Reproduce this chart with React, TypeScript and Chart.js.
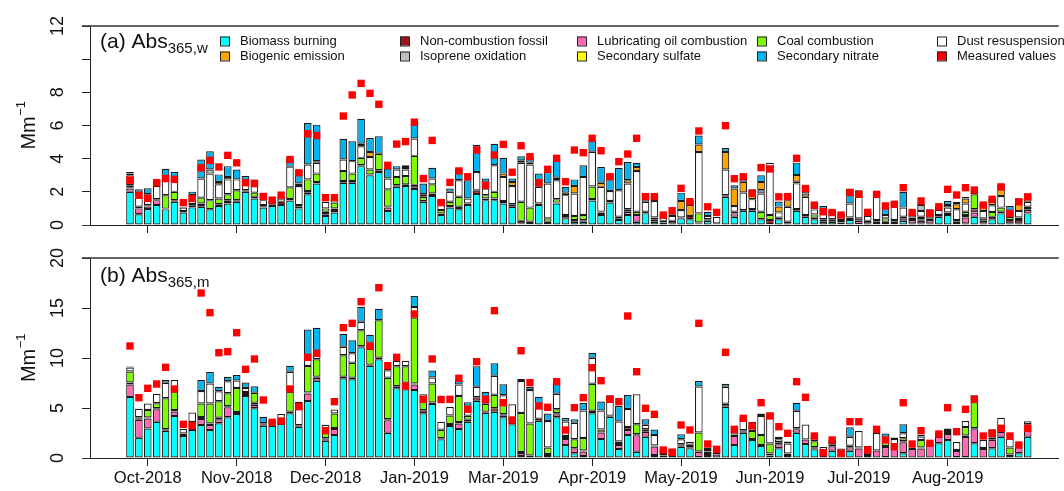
import React, { useEffect, useRef } from 'react';
import { Chart, registerables } from 'chart.js';

Chart.register(...registerables);

const FONT = "'Liberation Sans', Arial, Helvetica, sans-serif";

// ---------- categories / ticks ----------
const monthLabels = ['Oct-2018', 'Nov-2018', 'Dec-2018', 'Jan-2019', 'Mar-2019', 'Apr-2019', 'May-2019', 'Jun-2019', 'Jul-2019', 'Aug-2019'];
const monthTickBars = [2, 12, 22, 32, 42, 52, 62, 72, 82, 92];
const LEAD = 4;
const TRAIL = 3;

const sourceNames = ['Biomass burning', 'Lubricating oil combustion', 'Non-combustion fossil', 'Coal combustion', 'Dust resuspension', 'Isoprene oxidation', 'Biogenic emission', 'Secondary sulfate', 'Secondary nitrate'];
const sourceColors = ['#00FFFF', '#FF69B4', '#A0141E', '#7CFC00', '#FFFFFF', '#BEBEBE', '#FFA500', '#FFFF00', '#00B4F0'];

const legendNames = ['Biomass burning', 'Biogenic emission', 'Non-combustion fossil', 'Isoprene oxidation', 'Lubricating oil combustion', 'Secondary sulfate', 'Coal combustion', 'Secondary nitrate', 'Dust resuspension', 'Measured values'];
const legendColors = ['#00FFFF', '#FFA500', '#A0141E', '#BEBEBE', '#FF69B4', '#FFFF00', '#7CFC00', '#00B4F0', '#FFFFFF', '#FF0000'];

// ---------- panel (a) Abs365,w ----------
const aBio = [2.0,0.65,0.96,1.2,0.94,1.4,0.75,1.06,1.1,0.95, 1.15,1.3,1.4,2.0,1.6,1.05,1.15,1.2,1.47,1.0, 1.85,2.5,0.55,0.75,2.55,2.55,3.55,3.0,3.2,0.85, 2.3,2.35,2.17,1.4,1.75,0.6,1.05,0.95,1.2,1.87, 1.5,1.5,1.3,1.1,0.05,0.05,1.2,0.05,1.3,0.4, 0.2,0.2,1.47,0.6,1.35,0.3,0.6,0.2,0.7,0.2, 0.15,0.1,0.4,0.35,0.05,0.25,0.05,1.7,0.5,0.86, 0.86,0.35,0.05,0.34,0.1,0.86,0.5,0.34,0.2,0.2, 0.05,0.3,0.05,0.1,0.05,0.05,0.05,0.25,0.1,0.1, 0.1,0.5,0.6,0.05,0.1,0.5,0.1,0.34,0.7,0.1, 0.1,0.7];
const aLub = [0.2,0.35,0.15,0.3,0,0.1,0,0.1,0.1,0, 0.1,0.15,0,0,0,0.05,0,0,0,0.1, 0.1,0,0.1,0.15,0,0,0,0,0,0.2, 0,0,0.1,0,0,0,0,0,0,0, 0,0,0,0,0.05,0,0,0,0,0.15, 0.1,0.05,0,0.15,0,0.1,0.2,0.4,0,0.15, 0,0,0,0,0.05,0,0,0.05,0.2,0, 0,0,0,0,0,0,0,0,0,0, 0.1,0,0.2,0,0.15,0.15,0.15,0.15,0.2,0.15, 0.2,0,0,0.15,0.35,0.25,0.15,0,0,0, 0,0.2];
const aNc = [0.05,0.1,0.05,0,0.05,0,0.1,0.1,0.1,0, 0,0.05,0.1,0.1,0.1,0.1,0.1,0.2,0.1,0.1, 0.1,0.1,0.15,0.1,0.1,0.1,0.05,0.05,0.1,0.05, 0.1,0.1,0.15,0.05,0.15,0.1,0.1,0.15,0.1,0.2, 0.1,0.1,0,0.15,0.15,0.15,0.1,0.15,0.05,0.05, 0,0.05,0.1,0.05,0.1,0.1,0.15,0,0.1,0.1, 0.1,0.15,0.05,0.2,0.05,0.1,0.05,0.05,0.1,0.05, 0.1,0,0.25,0.1,0.1,0.1,0.1,0.1,0.15,0.15, 0.15,0.15,0.15,0.15,0.1,0,0.1,0.1,0.15,0.1, 0.1,0.1,0.15,0.1,0.15,0.2,0.15,0.15,0.1,0.2, 0.2,0.05];
const aCoal = [0.15,0,0.05,0.05,0.8,0.5,0,0,0.35,0.55, 0.35,0.35,0.6,0,0.25,0,0,0,0.7,0, 0.7,0.5,0.2,0.35,0.6,0.45,0.45,0.3,1.0,1.05, 0.5,0.5,1.75,0.25,0.55,0.2,0.25,0.6,0,0.05, 0.2,0.4,0.15,0,1.15,0.85,0,0.2,0.2,0, 0.25,0.3,0.75,0,0,0,0,0.2,0,0, 0,0,0,0,0.55,0,0,0,0,0, 0,0.45,0.3,0,0,0,0,0.2,0,0, 0,0,0,0,0,0.2,0,0,0,0.15, 0,0,0,0,0.2,0.9,0,0.3,0.25,0.2, 0.15,0.15];
const aDust = [0.35,0.55,0.5,0.8,1.0,0.6,0.2,0.4,1.15,1.6, 0.85,0.9,0.65,0.4,0.4,0.3,0.25,0.2,1.25,1.15, 0.9,0.65,0.4,0.2,0.7,0.75,0.7,0.75,0,0.65, 0.45,0.4,1.05,0.15,0.35,0.35,0.6,1.0,0.3,1.07, 0.4,1.6,1.45,1.1,2.35,2.6,1.0,2.1,1.15,1.2, 1.35,2.3,2.1,1.5,0.6,1.6,1.55,2.45,0.6,1.0, 0.2,0.3,0.45,0,3.7,0.2,0.4,1.55,0.35,1.05, 0.6,1.1,3.15,0.32,0.9,1.55,1.1,0.3,0.4,0.3, 0.4,0.85,1.4,0.3,1.5,0.2,0.8,0.55,0.25,0.35, 0.3,0.3,0.3,0.65,0.5,0,0.45,0.4,0.7,0.3, 0.4,0.3];
const aIso = [0,0,0,0,0,0,0,0,0,0.25, 0,0,0,0,0,0,0,0,0,0, 0,0,0,0,0,0,0,0,0,0, 0,0,0,0,0,0,0,0,0,0, 0,0,0,0,0,0,0,0,0,0, 0,0,0,0,0,0,0,0,0,0, 0,0,0,0,0,0,0,0,0,0, 0,0.2,0,0,0,0.1,0,0,0,0, 0,0,0,0,0,0,0,0,0,0.35, 0,0,0,0,0,0,0,0,0,0, 0,0];
const aBiog = [0.25,0.15,0.15,0,0,0.1,0,0.15,0,0, 0.15,0.15,0,0,0.1,0,0,0,0,0.15, 0,0.1,0,0,0,0,0.15,0.3,0,0, 0,0.15,0,0,0,0,0,0,0,0, 0,0,0.2,0.25,0,0,0,0,0.15,0.15, 0.45,0,0,0.25,0,0,0.2,0.25,0,0, 0,0,0.55,0.65,0.45,0,0,1.05,1.05,0.65, 0.3,0.5,0,0.35,0.4,0.4,0.2,0.2,0,0, 0,0,0,0,0,0,0,0,0,0, 0,0,0.15,0.3,0.3,0.25,0.3,0.2,0.4,0, 0.75,0.45];
const aSulf = [0.1,0.05,0,0,0,0.05,0,0,0,0, 0,0,0,0,0,0,0,0,0,0, 0,0,0,0,0,0,0,0,0,0, 0,0,0,0,0,0,0,0,0,0, 0,0,0,0,0.15,0.1,0,0,0,0, 0,0,0,0,0,0,0,0,0,0, 0,0,0,0,0,0,0,0,0,0, 0,0,0,0,0,0,0,0,0,0, 0,0,0,0,0,0,0,0,0,0, 0,0,0,0,0,0,0,0,0,0, 0,0];
const aNit = [0.1,0.3,0.35,0.4,0.6,0.45,0.05,0.2,1.15,1.1, 0.45,0.65,0.6,0.45,0.3,0.4,0,0.1,0.5,0.8, 2.5,2.2,0,0,1.25,1.2,1.5,0.85,1.05,0.6, 0.2,0.1,0.9,0.65,0.65,0.3,0.2,0.7,1.1,1.65, 0.6,1.3,0.95,0.2,0.25,0.4,0.8,0.7,1.1,0.35, 0.4,0.7,0.65,0.95,1.05,1.35,1.1,0.25,0.45,0.35, 0.2,0.1,0.5,0.3,0.55,0.25,0,0.25,0.2,0.2, 0.3,0.4,0,0.3,0.3,0.75,0.4,0.15,0.4,0.25, 0,0.9,0.3,0.25,0.2,0.5,0.3,0.95,0,0.1, 0.25,0.25,0.25,0.15,0.1,0,0.2,0.2,0.3,0.35, 0,0];
const aMeas = [2.7,1.8,1.6,2.55,2.8,2.75,1.35,1.6,3.45,3.9, 3.5,4.2,3.75,2.55,2.5,1.72,1.5,1.8,3.95,3.15, 5.5,5.4,1.65,1.65,6.57,7.84,8.54,7.94,7.28,3.6, 4.88,5.03,6.2,2.8,5.1,1.35,2.57,3.26,2.91,4.52, 2.4,4.22,4.86,3.18,4.78,4.12,2.55,3.36,4.02,2.61, 4.52,4.36,5.23,4.48,2.91,3.82,4.28,5.23,1.71,1.71, 0.6,0.86,2.21,1.41,5.67,1.1,0.76,5.99,2.79,2.91, 1.91,3.46,3.38,1.7,1.71,4.02,2.2,1.2,0.8,0.75, 0.6,1.95,1.85,0.76,1.85,1.15,1.25,2.25,0.75,1.45, 0.7,1.1,2.15,1.81,2.25,2.11,1.2,1.55,2.3,0.7, 1.4,1.7];

// ---------- panel (b) Abs365,m ----------
const bBio = [6.1,2.03,2.95,3.63,2.73,4.2,2.2,2.8,3.3,2.8, 3.47,4.07,4.4,6.2,4.97,3.23,3.23,3.4,4.47,3.13, 5.7,7.73,1.73,2.3,7.97,7.87,11.07,9.23,9.87,2.53, 6.97,6.87,6.8,4.47,5.4,1.87,3.2,2.9,3.63,5.73, 4.53,4.63,4.07,3.37,0.2,0.1,3.73,0.1,4.07,1.3, 0.47,0.2,4.47,1.9,4.13,0.9,2.3,0.63,2.13,0.3, 0.25,0.1,1.13,0.97,0.1,0.2,0.05,5.13,1.3,2.53, 1.8,1.2,0.1,0.97,0.1,2.53,1.4,0.87,0.1,0.73, 0.05,0.73,0.05,0.1,0.05,0.1,0.05,0.47,0.05,0.05, 0.05,1.47,1.8,0.1,0.1,1.47,0.05,0.97,2.13,0.1, 0.47,2.13];
const bLub = [1.25,1.8,1.0,1.25,0,0.45,0.1,0.3,0.6,0.5, 0.4,1.0,0.1,0.1,0.35,0,0,0,0,0, 0.75,0.3,0.15,0.6,0,0,0,0,0,1.25, 0,0.4,0.55,0,0,0,0,0.55,0,0, 0,0,0.2,0,0.3,0,0,0.2,0.3,0.6, 0.5,0.45,0,0.65,0,0.4,0.5,1.65,0.5,0.85, 0.25,0.4,0.1,0.1,0.5,0.2,0.3,0,0.9,0.15, 0,0,0.15,0.4,0.2,0.35,0.45,0.1,0.4,0.45, 0.4,0.35,0.9,0.2,0.7,1.0,1.2,1.1,0.85,0.9, 1.4,0.65,0.6,0.6,2.0,1.4,0.85,0.85,0.5,0.2, 0.6,0.75];
const bNc = [0.2,0.1,0.1,0.1,0.15,0.15,0.15,0.1,0.2,0.15, 0.15,0.1,0.1,0.1,0.2,0.15,0.1,0.45,0.15,0.15, 0.1,0.1,0.1,0.1,0.15,0.15,0.1,0.1,0.15,0.1, 0.2,0.25,0.1,0.3,0.15,0.1,0.2,0.15,0.2,0.35, 0.1,0.35,0.1,0.3,0.1,0.15,0.2,0.1,0.1,0.1, 0,0.1,0.25,0,0.1,0.1,0.3,0.1,0.25,0.1, 0.2,0.2,0.15,0.25,0.05,0.25,0.15,0.3,0.15,0.1, 0.1,0.1,0.2,0.2,0.15,0.1,0,0.1,0.1,0.2, 0.1,0.15,0.1,0.3,0,0.1,0.1,0.1,0.1,0.1, 0.1,0.1,0.2,0.1,0.15,0.1,0.1,0.2,0,0.05, 0.1,0.1];
const bCoal = [1.1,0.15,0.75,0.5,3.1,1.85,0,0.4,1.35,2.0, 1.65,1.3,2.4,0.2,1.0,0,0,0,2.0,0, 2.65,1.75,0.6,1.45,2.15,1.5,1.6,1.6,3.75,4.15, 2.0,1.65,6.6,0.9,1.9,0.85,0.85,2.6,0.4,0, 0.8,1.35,1.3,0,3.9,3.2,0,0.65,0.4,0.2, 0.9,1.25,2.7,0.3,0,0.25,0,1.0,0,0, 0,0,0,0,1.9,0,0,0,0,0, 0.8,1.0,1.0,0,0,0,0,0.6,0,0, 0,0,0,0,0,0.4,0,0.3,0,0.75, 0,0,0,0,0.85,2.6,0,0.35,0.55,0.7, 0,0.4];
const bDust = [0.4,0.85,0.65,0.95,1.55,1.15,0.45,0.95,1.25,2.0, 1.0,1.2,0.75,0.4,0,0.1,0.15,0.55,2.0,2.05, 0.7,0.7,0.75,0.4,0.85,0.95,0.85,0.6,0,0.75, 0.55,0.55,1.05,0.7,0.6,0.8,0.85,1.15,0.9,1.05, 0.6,1.9,0.6,1.7,3.2,3.35,1.35,2.65,1.55,1.45, 1.65,2.75,2.6,1.9,1.4,2.0,1.8,3.0,0.45,1.05, 0.25,0.25,0.5,0.3,4.6,0.25,0.35,1.7,0.7,1.25, 0.65,1.9,2.65,0.3,1.0,1.75,1.5,0.3,0.5,0.5, 0.4,0.9,1.65,0.6,1.75,0.4,0.55,0.5,0.05,0.35, 0.1,0.3,0.2,0.8,0.6,0.7,0.8,0.5,0.85,0.9, 0.25,0.3];
const bIso = new Array(102).fill(0);
const bBiog = new Array(102).fill(0);
const bSulf = new Array(102).fill(0);
const bNit = [0.1,0,0,0,0.3,0,0,0,1.1,1.15, 0.45,0.45,0.55,0.55,0.65,0.65,0.3,0,0.6,0.3, 2.95,2.45,0,0,1.3,1.3,1.5,0.8,1.15,0.15, 0,0,1.1,0,0.7,0,0,0.45,0.45,2.05, 0.6,1.25,1.1,0,0.2,0.3,0.85,0.75,1.05,0.35, 0.35,0.75,0.5,0.9,0.65,1.55,1.4,0,0.55,0.55, 0,0,0.5,0,0.55,0.15,0,0.3,0.15,0.1, 0.25,0.25,0.45,0.25,0.2,0.8,0,0.25,0,0, 0,0.95,0,0,0,0.45,0.15,0.9,0,0.15, 0,0,0.15,0,0,0,0,0,0,0, 0,0];
const bMeas = [11.2,6.03,6.97,7.4,9.07,6.9,3.37,3.23,16.5,14.53, 10.53,10.63,12.53,8.87,9.9,5.8,3.57,3.7,6.9,5.13, 10.07,10.47,2.73,5.63,13.03,13.47,15.63,11.2,17.03,9.23, 10.07,7.2,14.4,5.87,9.9,5.85,5.87,7.97,4.87,9.63, 5.87,14.73,5.53,3.8,10.73,7.53,5.2,5.07,7.63,2.8, 5.03,6.03,9.03,7.73,5.87,5.63,14.2,8.63,4.97,4.37, 0.8,0.57,3.3,2.8,13.47,1.4,0.87,10.57,2.87,3.97, 3.2,5.53,4.2,3.13,2.47,7.63,6.07,2.2,0.53,1.8, 0.47,3.63,3.63,0.8,2.87,1.8,1.13,5.53,1.4,2.73, 1.47,2.4,5.03,2.63,4.87,5.87,2.2,2.47,2.97,2.2, 1.3,2.97];

const aSeries = [aBio, aLub, aNc, aCoal, aDust, aIso, aBiog, aSulf, aNit];
const bSeries = [bBio, bLub, bNc, bCoal, bDust, bIso, bBiog, bSulf, bNit];

// ---------- helpers ----------
const NBARS = aBio.length;
const NCAT = LEAD + NBARS + TRAIL;
const tickCats = monthTickBars.map((b) => b + LEAD);
const catLabels = Array.from({ length: NCAT }, (_, i) => {
  const k = tickCats.indexOf(i);
  return k >= 0 ? monthLabels[k] : '';
});
const pad = (arr: number[]) => [...new Array(LEAD).fill(null), ...arr, ...new Array(TRAIL).fill(null)];

function buildDatasets(series: number[][], meas: number[]) {
  const ds: any[] = series.map((s, i) => ({
    type: 'bar',
    label: sourceNames[i],
    data: pad(s),
    backgroundColor: sourceColors[i],
    borderColor: '#1a1a1a',
    borderWidth: 1.2,
    borderSkipped: false,
    stack: 'src',
    order: 1,
    barPercentage: 0.86,
    categoryPercentage: 1,
  }));
  ds.push({
    type: 'line',
    label: 'Measured values',
    data: pad(meas),
    showLine: false,
    pointStyle: 'rect',
    pointRadius: 5.2,
    pointBackgroundColor: '#FF0000',
    pointBorderWidth: 0,
    borderColor: '#FF0000',
    backgroundColor: '#FF0000',
    stack: 'meas',
    order: 0,
    clip: false,
  });
  return ds;
}

function drawYTitle(ctx: CanvasRenderingContext2D, x: number, yc: number) {
  ctx.save();
  ctx.translate(x, yc);
  ctx.rotate(-Math.PI / 2);
  ctx.fillStyle = '#111';
  ctx.textAlign = 'left';
  ctx.textBaseline = 'alphabetic';
  ctx.font = `20px ${FONT}`;
  const w1 = ctx.measureText('Mm').width;
  ctx.font = `13px ${FONT}`;
  const w2 = ctx.measureText('\u22121').width;
  const start = -(w1 + w2) / 2;
  ctx.font = `20px ${FONT}`;
  ctx.fillText('Mm', start, 0);
  ctx.font = `13px ${FONT}`;
  ctx.fillText('\u22121', start + w1 + 0.5, -10);
  ctx.restore();
}

function decorPlugin(panel: 'a' | 'b') {
  return {
    id: 'decor_' + panel,
    afterDraw(chart: any) {
      const { ctx, chartArea: ca } = chart;
      ctx.save();
      ctx.strokeStyle = '#333';
      ctx.lineWidth = 1.5;
      ctx.beginPath();
      ctx.moveTo(ca.left - 8, ca.top);
      ctx.lineTo(ca.right, ca.top);
      ctx.stroke();
      ctx.lineWidth = 1;
      ctx.beginPath();
      ctx.moveTo(ca.left - 8, ca.bottom + 0.5);
      ctx.lineTo(ca.left, ca.bottom + 0.5);
      ctx.stroke();

      // panel title
      const base = panel === 'a' ? 48 : 37;
      ctx.fillStyle = '#111';
      ctx.textAlign = 'left';
      ctx.textBaseline = 'alphabetic';
      ctx.font = `21px ${FONT}`;
      const main = panel === 'a' ? '(a) Abs' : '(b) Abs';
      ctx.fillText(main, 100, base);
      const mw = ctx.measureText(main).width;
      ctx.font = `15px ${FONT}`;
      ctx.fillText(panel === 'a' ? '365,w' : '365,m', 100 + mw, base + 5);

      drawYTitle(ctx, 35, (ca.top + ca.bottom) / 2);

      if (panel === 'a') {
        const colX = [240, 420, 597, 777, 957];
        const rowY = [41, 56];
        ctx.font = `13px ${FONT}`;
        ctx.textBaseline = 'middle';
        legendNames.forEach((name, i) => {
          const c = Math.floor(i / 2);
          const r = i % 2;
          const x = colX[c];
          const y = rowY[r];
          ctx.fillStyle = legendColors[i];
          ctx.fillRect(x - 20, y - 4.5, 9, 9);
          ctx.strokeStyle = '#222';
          ctx.lineWidth = 1;
          ctx.strokeRect(x - 20 + 0.5, y - 4.5 + 0.5, 9, 9);
          ctx.fillStyle = '#111';
          ctx.fillText(name, x, y);
        });
      }
      ctx.restore();
    },
  };
}

function makeConfig(panel: 'a' | 'b'): any {
  const isA = panel === 'a';
  return {
    type: 'bar',
    data: {
      labels: catLabels,
      datasets: buildDatasets(isA ? aSeries : bSeries, isA ? aMeas : bMeas),
    },
    plugins: [decorPlugin(panel)],
    options: {
      responsive: true,
      maintainAspectRatio: false,
      animation: false,
      devicePixelRatio: 1,
      layout: { padding: { top: isA ? 26 : 13, left: 0, right: 0, bottom: 0 } },
      plugins: { legend: { display: false }, tooltip: { enabled: false } },
      scales: {
        x: {
          type: 'category',
          stacked: true,
          offset: true,
          grid: { drawOnChartArea: false, offset: false, tickLength: 8, color: '#222', lineWidth: 1 },
          border: { display: true, color: '#222', width: 1 },
          ticks: {
            display: !isA,
            autoSkip: false,
            minRotation: 0,
            maxRotation: 0,
            padding: 3,
            color: '#111',
            font: { family: FONT, size: 16.5 },
          },
          afterBuildTicks: (scale: any) => {
            scale.ticks = scale.ticks.filter((t: any) => tickCats.includes(t.value));
          },
          afterFit: (scale: any) => {
            scale.height = isA ? 20 : 33;
            scale.paddingLeft = 0;
            scale.paddingRight = 0;
          },
        },
        y: {
          stacked: true,
          min: 0,
          max: isA ? 12 : 20,
          grid: { drawOnChartArea: false, tickLength: 8, color: '#222', lineWidth: 1 },
          border: { display: true, color: '#222', width: 1 },
          ticks: {
            stepSize: isA ? 2 : 5,
            minRotation: 90,
            maxRotation: 90,
            crossAlign: 'center',
            padding: 14,
            color: '#111',
            font: { family: FONT, size: 18 },
            callback: (v: number) => (isA && v === 10 ? '' : String(v)),
          },
          afterFit: (scale: any) => {
            scale.width = 90;
            scale.paddingTop = 0;
            scale.paddingBottom = 0;
          },
        },
      },
    },
  };
}

export default function App() {
  const refA = useRef<HTMLCanvasElement>(null);
  const refB = useRef<HTMLCanvasElement>(null);

  useEffect(() => {
    const cA = new Chart(refA.current as HTMLCanvasElement, makeConfig('a'));
    const cB = new Chart(refB.current as HTMLCanvasElement, makeConfig('b'));
    return () => {
      cA.destroy();
      cB.destroy();
    };
  }, []);

  return (
    <div style={{ position: 'fixed', left: 0, top: 0, width: 1064, height: 491, background: '#fff', overflow: 'hidden' }}>
      <div style={{ position: 'absolute', left: 0, top: 0, width: 1064, height: 245 }}>
        <canvas ref={refA} />
      </div>
      <div style={{ position: 'absolute', left: 0, top: 245, width: 1064, height: 246 }}>
        <canvas ref={refB} />
      </div>
    </div>
  );
}
